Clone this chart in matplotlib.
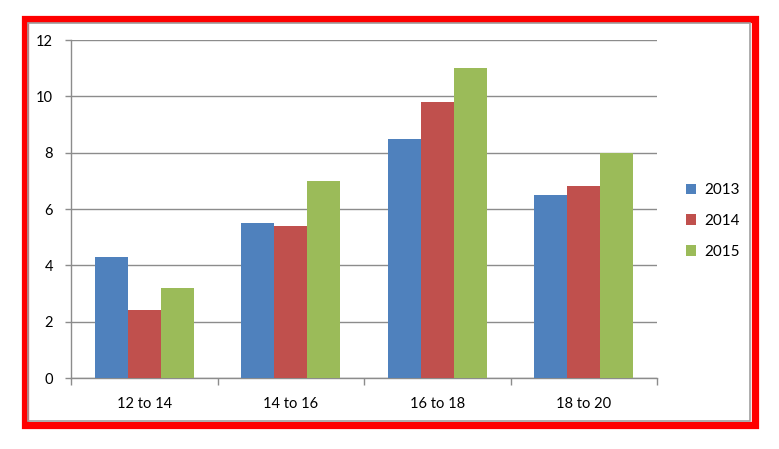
import matplotlib
matplotlib.use("Agg")
import matplotlib.pyplot as plt
import numpy as np
from matplotlib.patches import Rectangle

categories = ["12 to 14", "14 to 16", "16 to 18", "18 to 20"]
series_names = ["2013", "2014", "2015"]
v2013 = [4.3, 5.5, 8.5, 6.5]
v2014 = [2.4, 5.4, 9.8, 6.8]
v2015 = [3.2, 7.0, 11.0, 8.0]
colors = ["#4F81BD", "#C0504D", "#9BBB59"]
yticks = [0, 2, 4, 6, 8, 10, 12]

plt.rcParams['font.family'] = ['Lato', 'DejaVu Sans']

W, H = 779, 449
fig = plt.figure(figsize=(W/100, H/100), dpi=100)
ax = fig.add_axes([71/W, 1-378/H, (657-71)/W, (378-40)/H])

x = np.arange(len(categories))
bw = 0.226
for i, (vals, name, c) in enumerate(zip([v2013, v2014, v2015], series_names, colors)):
    ax.bar(x + (i-1)*bw, vals, bw, color=c, label=name, zorder=3)

ax.set_xlim(-0.5, len(categories)-0.5)
ax.set_ylim(0, 12)
ax.set_yticks(yticks)
ax.set_yticklabels([str(t) for t in yticks], fontsize=10.5)
ax.set_xticks(x)
ax.set_xticklabels(categories, fontsize=10.5)
ax.set_xticks(np.arange(-0.5, len(categories), 1.0), minor=True)
ax.tick_params(axis='x', which='major', length=0, pad=14)
ax.tick_params(axis='x', which='minor', length=5, color='#8c8c8c', width=1)
ax.tick_params(axis='y', length=4, color='#8c8c8c', width=1, pad=9)
ax.grid(axis='y', color='#8c8c8c', linewidth=1, zorder=0)
for s in ['top', 'right']:
    ax.spines[s].set_visible(False)
for s in ['left', 'bottom']:
    ax.spines[s].set_color('#8c8c8c')
    ax.spines[s].set_linewidth(1)

leg = fig.legend(loc='center left', bbox_to_anchor=(672/W, 1-221/H), frameon=False,
                 fontsize=11, handlelength=0.7, handleheight=0.7,
                 handletextpad=0.5, labelspacing=1.1)

# frame
fig.patches.append(Rectangle((24.5/W, 1-424.5/H), (754.5-24.5)/W, (424.5-19)/H,
                             transform=fig.transFigure, fill=False, edgecolor='#FF0000',
                             linewidth=5.2, zorder=10))
fig.patches.append(Rectangle((28/W, 1-421/H), (749.5-28)/W, (421-22.5)/H,
                             transform=fig.transFigure, fill=False, edgecolor='#A0A0A0',
                             linewidth=1.2, zorder=11))

fig.savefig("out.png", dpi=100)
